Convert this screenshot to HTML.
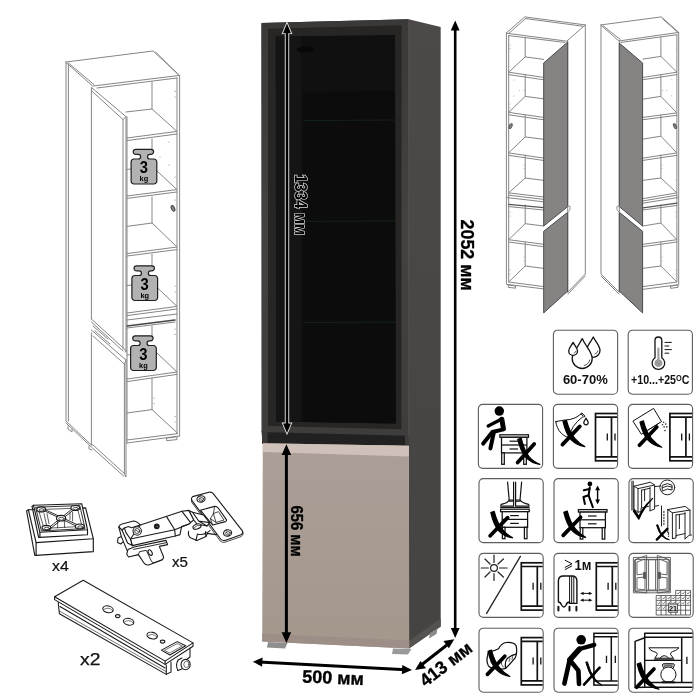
<!DOCTYPE html>
<html><head><meta charset="utf-8">
<style>
html,body{margin:0;padding:0;background:#fff;}
body{width:700px;height:700px;overflow:hidden;font-family:"Liberation Sans",sans-serif;}
svg{display:block;will-change:transform}
text{font-family:"Liberation Sans",sans-serif;}
.b{font-weight:bold}
.ln{fill:none;stroke:#858585;stroke-width:1;stroke-linejoin:round;stroke-linecap:round}
.lk{fill:none;stroke:#222;stroke-width:1;stroke-linejoin:round;stroke-linecap:round}
</style></head><body>
<svg width="700" height="700" viewBox="0 0 700 700">
<defs>
<linearGradient id="side" x1="0" x2="0" y1="0" y2="1"><stop offset="0" stop-color="#4c4948"/><stop offset="1" stop-color="#454443"/></linearGradient>
<linearGradient id="door" x1="0" x2="0" y1="0" y2="1"><stop offset="0" stop-color="#aa9e97"/><stop offset="1" stop-color="#a4988d"/></linearGradient>
<linearGradient id="frm" x1="0" x2="0" y1="0" y2="1"><stop offset="0" stop-color="#3b3938"/><stop offset=".5" stop-color="#444241"/><stop offset="1" stop-color="#3f3d3c"/></linearGradient>
</defs>
<rect width="700" height="700" fill="#fff"/>

<!-- MAIN CABINET -->
<g id="cab">
<!-- side panel -->
<polygon points="408.6,19.3 440.7,27.1 440.7,626.4 409,648.6" fill="url(#side)"/>
<polygon points="409,641 440.7,618.6 440.7,626.4 409,648.6" fill="#55524f"/>
<!-- carcass left strip + gap -->
<polygon points="261.5,22.9 408.6,19.3 408.8,446 262,444" fill="#222121"/>
<polygon points="261.5,431 267.6,431 267.6,443.4 262.4,443.2" fill="#3a3938"/><polygon points="405,435 408.7,435 408.8,445.8 405,445.7" fill="#3d3c3b"/>
<!-- glass door outer frame -->
<polygon points="261.5,22.9 408.6,19.3 408.6,435.7 261.5,432" fill="url(#frm)"/>
<!-- inner frame -->
<polygon points="268,28.8 401.6,25.2 401.4,429.2 268,426" fill="#272625"/>
<!-- glass -->
<polygon points="275.8,36.4 395,35 396,423.6 276.2,421.4" fill="#101010"/>
<polygon points="275.8,36.4 301,36 301,421.8 276.2,421.4" fill="#151515"/>
<polygon points="303,92 394.8,91 395.4,423.6 303,422" fill="#0c0c0c"/>
<ellipse cx="305.6" cy="49.6" rx="9" ry="3" fill="#080808"/>
<g stroke="#14221a" stroke-width="1"><line x1="303" y1="120.6" x2="394.8" y2="120"/><line x1="303" y1="221.4" x2="395" y2="221"/><line x1="303" y1="322.4" x2="395.2" y2="322.2"/></g>
<line x1="408.9" y1="20" x2="408.9" y2="436" stroke="#55524f" stroke-width=".8"/>
<!-- lower door -->
<polygon points="262.8,443.2 408.9,445.7 409.2,648.6 262.2,641.4" fill="url(#door)"/>
<polygon points="262.8,443.2 408.9,445.7 408.9,456.4 262.8,452" fill="#cfc1b9"/>
<polygon points="262.2,633.6 409.1,640.6 409.2,648.6 262.2,641.4" fill="#9d8f87"/>
<!-- feet -->
<polygon points="268,642 287.5,643 285,648.5 267,647.5" fill="#8e8e8e"/>
<polygon points="393,648.5 411.5,649 408,654.5 392,654" fill="#9a9a9a"/>
<polygon points="430,633 437.5,628.5 436.5,634 429,638.5" fill="#8a8a8a"/>
</g>


<!-- LEFT LINE CABINET -->
<g id="leftcab" class="ln">
<!-- top panel -->
<polygon points="66,62 153,51 179.6,75.4 93,86"/>
<polyline points="68.4,63 94,84.6"/>
<polyline points="155.6,52 177.6,74"/>
<polyline points="97,88 177,78"/>
<!-- left side -->
<polyline points="66,62 66,421 91.4,445"/>
<polyline points="66,423 91.4,447"/>
<polyline points="68.4,64 68.4,421"/>
<polyline points="68,426 68,429 72,432 72,429"/>
<polyline points="89,446 89,449 92,450"/>
<!-- right side front edge -->
<polyline points="179.6,75.4 179.6,436"/>
<polyline points="177,78 177,433.6"/>
<!-- back-left interior vertical -->
<polyline points="152,82 152,109"/>
<polyline points="152,139 152,150"/><polyline points="152,197 152,223"/><polyline points="152,254 152,266"/>
<polyline points="152,326 152,336"/><polyline points="152,378 152,409.6"/>
<!-- interior left vertical -->
<polyline points="127,117 127,443"/>
<!-- shelf1 -->
<polyline points="126,112 152,109 177,131.4 127,138"/><polyline points="127,140.6 177,134"/>
<!-- shelf2 -->
<polyline points="157,171 177,189.6 127,196"/><polyline points="127,198.4 177,192"/><polyline points="127,169.4 131,169"/>
<!-- shelf3 -->
<polyline points="127,226.4 152,223 177,247 127,253.6"/><polyline points="127,256 177,249.6"/>
<!-- shelf4 -->
<polyline points="157.6,288 177,306.4 127,313"/><polyline points="127,315.6 177,309"/><polyline points="127,285.6 132,285"/>
<!-- rail -->
<polyline points="127,320 177,314"/>
<polyline points="127,326 175,320" stroke="#444" stroke-width="1.4"/>
<polyline points="127,328 175,322"/>
<!-- shelf5 -->
<polyline points="157,353 177,372 127,379"/><polyline points="127,381.6 177,374.4"/><polyline points="127,355 130.4,354.6"/>
<!-- bottom -->
<polyline points="127,413 152,409.6 178,433.6 127,440"/><polyline points="127,443 179.6,436"/>
<polygon points="167,438 177,436.8 177,439.6 167,440.6"/>
<!-- upper door -->
<polyline points="91.4,319 91.4,87.4 126,116.6 126,352"/>
<polyline points="91.4,90.6 123,119.6 123,349"/>
<polyline points="123,119.6 126,116.6"/>
<polyline points="91.4,319 124.4,349 126,352"/>
<polyline points="91.4,322 123,351"/>
<!-- lower door -->
<polyline points="91.4,333 91.4,445 93,445 124.4,473.6 126,477 126,360 91.4,330"/>
<polyline points="93,336 124.4,364 124.4,473.6"/><polyline points="92,447.6 124,476.4"/>
<polyline points="93,326 108,339"/><polyline points="95,331 110,344"/>
<polyline points="124.4,364 126,360"/>
<!-- lock -->
<ellipse cx="173" cy="208.4" rx="1.6" ry="3" transform="rotate(-25 173 208.4)" fill="#888" stroke="#444"/>
<!-- holes -->
<g fill="#888" stroke="none">
<circle cx="175" cy="91.4" r=".6"/><circle cx="175" cy="97" r=".6"/>
<circle cx="169" cy="142" r=".6"/><circle cx="160" cy="157" r=".6"/><circle cx="169" cy="165" r=".6"/><circle cx="175" cy="177" r=".6"/>
<circle cx="175" cy="200" r=".6"/><circle cx="175" cy="286" r=".6"/><circle cx="175" cy="292" r=".6"/>
<circle cx="175" cy="329" r=".6"/><circle cx="175" cy="334.4" r=".6"/>
<circle cx="154" cy="398" r=".6"/><circle cx="154" cy="403.6" r=".6"/>
<circle cx="175" cy="416.6" r=".6"/><circle cx="175" cy="422" r=".6"/>
</g>
</g>
<!-- weights -->
<defs>
<g id="wt">
<path d="M4.6,0 H20 A2.5,2.5 0 0 1 20,5 H18.8 A2.35,2.35 0 0 0 18.8,9.7 H22.7 A3,3 0 0 1 25.7,12.7 V31.7 A3,3 0 0 1 22.7,34.7 H3 A3,3 0 0 1 0,31.7 V12.7 A3,3 0 0 1 3,9.7 H7.2 A2.35,2.35 0 0 0 7.2,5 H4.6 A2.5,2.5 0 0 1 4.6,0 Z" fill="#b2b2b2" stroke="#1e1e1e" stroke-width="1.2"/>
<text x="12.7" y="24.2" font-size="16.6" font-weight="bold" text-anchor="middle" fill="#000" textLength="8.2" lengthAdjust="spacingAndGlyphs">3</text>
<text x="12.8" y="31.8" font-size="7.4" font-weight="bold" text-anchor="middle" fill="#000">kg</text>
</g>
</defs>
<use href="#wt" x="131.1" y="149.3"/>
<use href="#wt" x="131.9" y="265.8"/>
<use href="#wt" x="130.6" y="335.8"/>


<!-- HARDWARE -->
<g id="hw" class="lk" stroke-width="0.9">
<!-- foot x4 -->
<g stroke-width="1.15" stroke="#1a1a1a">
<polygon points="28.4,509.8 36.1,542.6 93.3,538.7 85.6,507.9" fill="#fff"/>
<polyline points="36.1,542.6 36.1,555.4 93.3,551.6 93.3,538.7"/>
<polyline points="28.4,509.8 26.6,511 34.8,555.4 36.1,555.4"/>
<polygon points="33.5,505.3 81.7,503.7 87.5,529.7 39.9,532.3" fill="#fff"/>
<polyline points="39.9,532.3 39.9,537.4 87.5,534.8 87.5,529.7"/>
<polyline points="33.5,505.3 32,506.2 38.6,537.4 39.9,537.4"/>
<polygon points="36,507.2 79.8,505.6 85,528.6 41.8,530.9" fill="none" stroke-width=".9"/>
<polyline points="38.4,509.6 77.4,508.2 82,526.4 44,528.4 38.4,509.6" stroke-width=".7"/>
<path d="M44.5,510.8 L76,526 M45,509.6 L77,524.6" stroke-width=".9"/>
<path d="M72,509 L49,527.6 M73.4,510 L50.4,528.6" stroke-width=".9"/>
<path d="M44,513.6 L46.4,524.6 M47,513.6 L49,523.6 M72.6,512 L72.6,521 M70,513 L70,519.6 M57.6,521 L57.6,528 M64.6,521 L64.6,527.6" stroke-width=".7"/>
<ellipse cx="41.2" cy="509.4" rx="4.4" ry="2.5" fill="#fff"/><ellipse cx="41.6" cy="510" rx="2.6" ry="1.2" stroke-width=".8"/>
<ellipse cx="75.3" cy="508" rx="4.4" ry="2.5" fill="#fff"/><ellipse cx="75.7" cy="508.6" rx="2.6" ry="1.2" stroke-width=".8"/>
<ellipse cx="79.8" cy="526.5" rx="4.4" ry="2.5" fill="#fff"/><ellipse cx="80.2" cy="527.1" rx="2.6" ry="1.2" stroke-width=".8"/>
<ellipse cx="46.4" cy="527.8" rx="4.4" ry="2.5" fill="#fff"/><ellipse cx="46.8" cy="528.4" rx="2.6" ry="1.2" stroke-width=".8"/>
<ellipse cx="61.1" cy="518.2" rx="4.6" ry="2.8" fill="#fff"/><ellipse cx="61.4" cy="518.8" rx="2.8" ry="1.4" stroke-width=".8"/>
</g>
<!-- hinge x5 -->
<g stroke-width="1.1" stroke="#1a1a1a">
<!-- cup underside -->
<path d="M188.6,531.4 Q187.6,536 191,538 L197,540.6 L206,536.4 L207.4,533.4 L216,534.6 L219,532.6" fill="#fff"/>
<path d="M196,540.4 L197.4,534 Q203,536 210,530.6 M206,536.4 L205.4,531.6"/>
<!-- plate -->
<path d="M192.6,496.6 L209,492.2 Q211.8,491.8 213.4,493.8 L242.2,530.6 Q243.6,533.4 241,534.8 L225,540.4 Q222.4,541 220.6,539 L192,500.6 Q190.8,498 192.6,496.6 Z" fill="#fff"/>
<path d="M191.4,499.6 L191.8,502.4 L220.4,541.2 Q222.4,542.8 225,542.2 L241,536.6 Q243.6,535.4 243.2,532.8" stroke-width=".8"/>
<ellipse cx="201" cy="499" rx="4.1" ry="3.2" transform="rotate(-12 201 499)"/><ellipse cx="201.2" cy="499.4" rx="2.4" ry="1.7" transform="rotate(-12 201 499)" stroke-width=".7"/><path d="M199.6,498.2 l3.2,2.4" stroke-width=".6"/>
<ellipse cx="227.6" cy="533" rx="4.1" ry="3.2" transform="rotate(-12 227.6 533)"/><ellipse cx="227.8" cy="533.4" rx="2.4" ry="1.7" transform="rotate(-12 227.6 533)" stroke-width=".7"/><path d="M226.2,532.2 l3.2,2.4" stroke-width=".6"/>
<!-- recess -->
<path d="M200.4,510.2 L214.6,506.4 Q216.8,506.2 218,507.8 L226.4,519.6 Q226.8,521 225.4,521.6 L212.6,525 Z" fill="#fff"/>
<path d="M214.6,506.4 L213.4,513.6 L210.4,518.6 L212.6,525 M213.4,513.6 L218.4,511.6 L224,520 L216,522.4 L213.4,513.6 M210.4,518.6 L216,522.4" stroke-width=".8"/>
<!-- link -->
<path d="M188.8,510.4 L192.6,512.2 L203.4,515 L209.6,522.6 L207,526 L197,524 L193.4,519.6 Z" fill="#fff"/>
<path d="M192.6,512.2 L198.6,521 L207,526 M198.6,521 L209.6,522.6"/>
<ellipse cx="197" cy="526.6" rx="4.2" ry="2.4" transform="rotate(-20 197 526.6)" fill="#fff"/>
<path d="M194,527.6 Q197,524.6 201,525.4" stroke-width=".7"/>
<!-- arm -->
<path d="M140.3,524.9 L182,511.3 L188.8,510.4 L193.6,519.8 L189,524 L181.6,526.4 L180,534.6 L175.3,536 L132.3,545.6 L130.4,539 Z" fill="#fff"/>
<path d="M130.4,539 L174.7,529.8 L166.7,516.9 M174.7,529.8 L175.3,536 M174.7,529.8 L189,524"/>
<path d="M182,511.3 L190.6,522.6"/>
<!-- left bracket -->
<path d="M118.8,527 Q119.4,524.6 122,524 L133.6,521 Q136.4,521 140.3,524.9 L131.6,527.8 L128.4,526.6 L124.4,528 L126,532.6 L130.4,539 L132.3,545.6 L127.6,543 L122,530 Z" fill="#fff"/>
<path d="M118.8,527 L121.4,536.6 L118,538 L117.6,542.4 L120.6,544 L123.4,541.6 L127.6,551.6 M121.4,536.6 L123.4,541.6 M124.4,528 L122,530"/>
<circle cx="137.2" cy="531" r="4.2" fill="#fff"/><circle cx="137.2" cy="531" r="2.5" stroke-width=".8"/><path d="M135.6,530 l3.2,2" stroke-width=".7"/>
<circle cx="156.8" cy="526.3" r="2.3" fill="#1a1a1a"/><circle cx="157.2" cy="526.5" r=".8" fill="#888" stroke="none"/>
<!-- mounting wing -->
<path d="M126.7,554.3 L128,549.4 L134.1,547 L166,540.4 L167.6,544.6 L159.3,546.4 L163.6,557 Q163.4,559.6 160.6,560.6 L148.6,565 Q145.6,565.4 144,563 L138.4,554.6 L128.6,557 Z" fill="#fff"/>
<path d="M133.6,549.4 L166.6,542.6 M138.4,554.6 L139.6,551.6 L146.4,550.4 L151.6,561.6 Q152.6,563 155,562.4 L162.4,559.6" stroke-width=".9"/>
<ellipse cx="150.2" cy="552.6" rx="1.7" ry="3" transform="rotate(-30 150.2 552.6)"/>
</g>
<!-- latch x2 -->
<g stroke-width="1.05" stroke="#1a1a1a">
<polygon points="54.6,596.7 83.2,580.2 193,642.9 165.1,661.1" fill="#fff"/>
<polyline points="54.6,596.7 54.6,599.6 165.1,664.4 193,646.2 193,642.9"/>
<polyline points="165.1,661.1 165.1,664.4"/>
<polyline points="58.2,602.4 59.4,613.7 166.3,674.4 166.3,665"/>
<polyline points="60,606.5 165,668"/>
<polyline points="59.4,611 166,671.5" stroke-width=".6"/>
<polyline points="166.3,674.4 171,672 171,662 M171,667 L180,671 M175,658 L175,668"/>
<polyline points="190,648 190,657 186,660"/>
<path d="M178,660 L182,658 M178,670.5 L183,668.6"/>
<ellipse cx="185.6" cy="664.6" rx="4.6" ry="5.2" fill="#fff"/>
<path d="M178,660.4 Q175,665 178,670.5" />
<ellipse cx="186.4" cy="664.4" rx="2.6" ry="3.2" stroke-width=".6"/>
<ellipse cx="108" cy="609.3" rx="5.3" ry="3.3" transform="rotate(12 108 609.3)"/>
<path d="M103.5,609.8 Q108,606 112.6,610.4" stroke-width=".6"/>
<ellipse cx="128.6" cy="621.7" rx="5.3" ry="3.3" transform="rotate(12 128.6 621.7)"/>
<path d="M124.1,622.2 Q128.6,618.4 133.2,622.8" stroke-width=".6"/>
<ellipse cx="152.2" cy="635.6" rx="5.3" ry="3.3" transform="rotate(12 152.2 635.6)"/>
<path d="M147.7,636.1 Q152.2,632.3 156.8,636.7" stroke-width=".6"/>
<ellipse cx="117.7" cy="616.1" rx="2.3" ry="1.5"/>
<ellipse cx="162.6" cy="641.6" rx="2.3" ry="1.5"/>
<polygon points="161.4,650.1 177.2,641.6 185.7,645.8 169.9,655"/>
<polygon points="164.6,650.2 177.2,643.6 182.4,646 169.9,652.8" stroke-width=".6"/>
</g>
</g>
<g fill="#111" font-size="14.5" stroke="#111" stroke-width=".2">
<text x="52" y="570.6" textLength="16.8" lengthAdjust="spacingAndGlyphs">x4</text>
<text x="172" y="566.6" textLength="16" lengthAdjust="spacingAndGlyphs">x5</text>
<text x="80" y="664.8" font-size="17" textLength="20.4" lengthAdjust="spacingAndGlyphs" stroke="#111" stroke-width=".25">x2</text>
</g>


<!-- TOP RIGHT CABINETS -->
<g id="cabA" class="ln" stroke="#909090" stroke-width=".9">
<!-- top panel -->
<polygon points="506.4,32.9 524.7,16.9 585.3,24.9 567,40.9"/>
<polyline points="508.7,33.4 525.6,18.6"/>
<polyline points="525.6,18.6 583,26.2"/>
<polyline points="508.7,35.6 564.7,42.4"/>
<!-- left side front edge -->
<polyline points="506.4,32.9 506.4,284.3 543.7,288.9"/>
<polyline points="508.7,35.6 508.7,282"/>
<!-- right side -->
<polyline points="585.3,24.9 585.3,274 567.7,292.3"/>
<polyline points="585.3,276 568,294"/>
<polyline points="567.7,41 567.7,292"/>
<!-- back-left interior -->
<polyline points="525.2,37.6 525.2,56.9"/><polyline points="525.2,75 525.2,96.4"/><polyline points="525.2,115 525.2,136.9"/><polyline points="525.2,155 525.2,178"/><polyline points="525.2,205 525.2,223.7"/><polyline points="525.2,242 525.2,266"/>
<!-- shelves -->
<polyline points="543.7,59.4 525.2,56.9 508.7,72.2 543.7,77.4"/><polyline points="508.7,74.6 543.7,79.8"/>
<polyline points="543.7,98.8 525.2,96.4 508.7,112.4 543.7,117.4"/><polyline points="508.7,114.8 543.7,119.8"/>
<polyline points="543.7,139.3 525.2,136.9 508.7,152.9 543.7,158.1"/><polyline points="508.7,155.3 543.7,160.5"/>
<polyline points="543.7,180.4 525.2,178 508.7,192.9 543.7,197"/><polyline points="508.7,195.2 543.7,199.4"/>
<polyline points="507,197.6 543.7,201.8"/>
<polyline points="508.7,204.3 543.7,207.7" stroke="#555" stroke-width="1.3"/>
<polyline points="508.7,206.6 543.7,210"/>
<polyline points="543.7,226 525.2,223.7 508.7,239.7 543.7,244.3"/><polyline points="508.7,242 543.7,246.7"/>
<polyline points="543.7,268.4 525.2,266 508.7,282 543.7,286.6"/>
<polygon points="508.7,285.2 515.6,286 515.6,288.2 508.7,287.4"/>
<!-- lock & holes -->
<ellipse cx="510.6" cy="126.1" rx="1.3" ry="2.6" transform="rotate(25 510.6 126.1)" fill="#888" stroke="#555"/>
<g fill="#999" stroke="none"><circle cx="510" cy="45" r=".5"/><circle cx="510" cy="48.6" r=".5"/><circle cx="514" cy="80" r=".5"/><circle cx="519.6" cy="90.6" r=".5"/><circle cx="524" cy="90.6" r=".5"/><circle cx="514" cy="96" r=".5"/><circle cx="510" cy="104" r=".5"/><circle cx="510" cy="108" r=".5"/><circle cx="524" cy="165" r=".5"/><circle cx="524" cy="168.5" r=".5"/><circle cx="510" cy="212" r=".5"/><circle cx="510" cy="216" r=".5"/><circle cx="524" cy="257" r=".5"/><circle cx="524" cy="261" r=".5"/><circle cx="510" cy="270" r=".5"/><circle cx="510" cy="274" r=".5"/></g>
</g>
<!-- doors A -->
<g stroke="#4a4848" stroke-width="1" stroke-linejoin="round">
<polygon points="543.7,63 567.7,42 567.7,206.6 543.7,226" fill="#868383"/>
<polygon points="543.7,231.3 567.7,212.3 567.7,291.1 543.7,312.9" fill="#868383"/>
</g>
<g class="ln" stroke="#666" stroke-width=".7"><polyline points="545.2,64.2 566.4,45.4 566.4,206"/><polyline points="545.2,311 545.2,232.4 566.4,215.6"/>
<polyline points="567.7,206.6 570,206 570,210 567.7,212.3" stroke="#999"/></g>

<g id="cabB" class="ln" stroke="#909090" stroke-width=".9">
<polygon points="601,24.9 661.3,16.9 678.7,32.4 619.3,40.9"/>
<polyline points="603.2,25.8 620.4,39.6"/>
<polyline points="662.6,18.8 676.9,31.6"/>
<polyline points="620.9,42.4 676.9,34.7"/>
<!-- left side -->
<polyline points="601,24.9 601,274 619.3,292.3"/>
<polyline points="601,276 619,294"/>
<polyline points="619.3,40.9 619.3,292"/>
<!-- right side front edge -->
<polyline points="678.7,32.4 678.7,284.7 643,289.3"/>
<polyline points="676.9,34.7 676.9,282"/>
<!-- back-right interior -->
<polyline points="660.9,37 660.9,56.4"/><polyline points="660.9,75 660.9,96.4"/><polyline points="660.9,115 660.9,136.2"/><polyline points="660.9,155 660.9,178"/><polyline points="660.9,205 660.9,223"/><polyline points="660.9,242 660.9,266"/>
<!-- shelves -->
<polyline points="643,59.1 660.9,56.4 676.9,72.2 643,77.4"/><polyline points="643,79.7 676.9,74.6"/>
<polyline points="643,99.1 660.9,96.4 676.9,112.9 643,117.4"/><polyline points="643,119.7 676.9,115.3"/>
<polyline points="643,139.1 660.9,136.2 676.9,152.9 643,158.1"/><polyline points="643,160.4 676.9,155.3"/>
<polyline points="643,180.3 660.9,178 676.9,192.9 643,198.6"/><polyline points="643,200.9 676.9,195.2"/>
<polyline points="643,203.2 678,197.5"/>
<polyline points="643,207.8 676.9,203.1" stroke="#555" stroke-width="1.3"/>
<polyline points="643,210 676.9,205.4"/>
<polyline points="643,226 660.9,223 676.9,239.7 643,244.3"/><polyline points="643,246.6 676.9,242"/>
<polyline points="643,268.3 660.9,266 676.9,282 643,286.6"/>
<polygon points="671,286 678,285 678,287.3 671,288.3"/>
<ellipse cx="675" cy="126.1" rx="1.3" ry="2.6" transform="rotate(-25 675 126.1)" fill="#888" stroke="#555"/>
<g fill="#999" stroke="none"><circle cx="676.4" cy="45.4" r=".5"/><circle cx="676.4" cy="48.9" r=".5"/><circle cx="671.8" cy="79.7" r=".5"/><circle cx="662.7" cy="90.5" r=".5"/><circle cx="666.6" cy="90.5" r=".5"/><circle cx="671.8" cy="95.7" r=".5"/><circle cx="676.4" cy="103.7" r=".5"/><circle cx="676.4" cy="107.1" r=".5"/><circle cx="662" cy="165" r=".5"/><circle cx="662" cy="168.5" r=".5"/><circle cx="676" cy="180" r=".5"/><circle cx="676" cy="212" r=".5"/><circle cx="676" cy="216" r=".5"/><circle cx="662" cy="257" r=".5"/><circle cx="662" cy="261" r=".5"/><circle cx="676" cy="270" r=".5"/><circle cx="676" cy="274" r=".5"/></g>
</g>
<g stroke="#4a4848" stroke-width="1" stroke-linejoin="round">
<polygon points="619.3,43.1 642.6,63 642.6,226 619.3,206.6" fill="#868383"/>
<polygon points="619.3,212.3 642.6,231.3 642.6,312.9 619.3,291.1" fill="#868383"/>
</g>
<g class="ln" stroke="#666" stroke-width=".7"><polyline points="641.2,64.4 620.6,46.4 620.6,206"/><polyline points="641.2,311 641.2,232.4 620.6,215.6"/>
<polyline points="619.3,206.6 617,206 617,210 619.3,212.3" stroke="#999"/></g>


<!-- ICONS -->
<defs>
<rect id="bx" x="0" y="0" width="64.2" height="64" rx="4.2" ry="4.2" fill="#fff" stroke="#5e5e5e" stroke-width="1.1"/>
<clipPath id="bc"><rect x="0.5" y="0.5" width="63.2" height="63" rx="3.8"/></clipPath>
<g id="wd" fill="none" stroke="#111" stroke-width="1.7">
<rect x="42.3" y="9.4" width="30" height="47.3"/>
<line x1="42.3" y1="13.1" x2="70" y2="13.1"/><line x1="42.3" y1="52.7" x2="70" y2="52.7"/>
<line x1="58.3" y1="13.1" x2="58.3" y2="52.7"/>
<line x1="54.1" y1="29.4" x2="54.1" y2="36.3" stroke-width="1.3"/><line x1="61.8" y1="29.4" x2="61.8" y2="36.3" stroke-width="1.3"/>
</g>
<!-- generic X : stroke1 from (19,0) to (0,19); stroke2 curved -->
<g id="xx" fill="none" stroke="#000" stroke-linecap="round">
<path d="M19,6.4 L1.6,24.6" stroke-width="3.7"/>
<path d="M5.6,0.2 Q8.6,12 14,18.4 Q18.4,23.6 24,26.6 Q16,25.4 10.4,19.8 Q5,13.8 2.2,1.4 Z" fill="#000" stroke-width="1.2" stroke-linejoin="round"/>
</g>
<g id="tbl" fill="#fff" stroke="#111" stroke-width="1.25">
<rect x="0" y="0" width="28.6" height="2.5"/>
<rect x="1.6" y="2.5" width="25.4" height="15.6"/>
<line x1="1.6" y1="10.2" x2="27" y2="10.2"/>
<line x1="9.6" y1="6.4" x2="18.2" y2="6.4" stroke-width="1.2"/><line x1="9.6" y1="14.2" x2="18.2" y2="14.2" stroke-width="1.2"/>
<rect x="1.8" y="18.1" width="2.6" height="11.4"/><rect x="23.8" y="18.1" width="2.6" height="11.4"/>
</g>
</defs>

<!-- r1c2 humidity -->
<g transform="translate(553.4,330.2)"><use href="#bx"/>
<g fill="#fff" stroke="#111" stroke-width="1.3" stroke-linejoin="round">
<path d="M39.9,6.8 C42,11.5 46.6,15.5 46.6,20.4 A6.7,6.7 0 0 1 33.2,20.4 C33.2,15.5 37.8,11.5 39.9,6.8 Z"/>
<path d="M28.8,8.4 C32,16 38.8,21.5 38.8,28.3 A10,10 0 0 1 18.8,28.3 C18.8,21.5 25.6,16 28.8,8.4 Z"/>
<path d="M19.7,12.2 C21.2,15.4 24.1,17.6 24.1,20.8 A4.4,4.4 0 0 1 15.3,20.8 C15.3,17.6 18.2,15.4 19.7,12.2 Z"/>
</g>
<g fill="none" stroke="#111" stroke-width=".7"><path d="M30.5,35.5 Q35.5,34 36.4,29.4"/><path d="M41,24 Q44,23 44.6,20.4"/><path d="M20.4,23 Q22.2,22.4 22.6,20.8"/></g>
<text x="31.9" y="54.2" font-size="13" font-weight="bold" text-anchor="middle" fill="#111">60-70%</text>
</g>
<!-- r1c3 temperature -->
<g transform="translate(628.2,330.2)"><use href="#bx"/>
<path d="M26.8,27.6 V10.2 A3.4,3.4 0 0 1 33.6,10.2 V27.6 A6.3,6.3 0 1 1 26.8,27.6 Z" fill="#fff" stroke="#111" stroke-width="1.3"/>
<path d="M29.2,29 V18.4 A1,1 0 0 1 31.2,18.4 V29 A4,4 0 1 1 29.2,29 Z" fill="#9a9a9a"/>
<g stroke="#111" stroke-width="1"><line x1="36.4" y1="12.2" x2="43.6" y2="12.2"/><line x1="36.4" y1="15.8" x2="41" y2="15.8"/><line x1="36.4" y1="19.4" x2="43.6" y2="19.4"/><line x1="36.4" y1="23" x2="41" y2="23"/></g>
<text x="2.8" y="54.2" font-size="13" font-weight="bold" fill="#111" textLength="58.4" lengthAdjust="spacingAndGlyphs">+10...+25<tspan font-size="9" dy="-3.2">O</tspan><tspan dy="3.2">C</tspan></text>
</g>

<!-- r2c1 sitting -->
<g transform="translate(478.4,404.4)"><use href="#bx"/>
<circle cx="20.9" cy="6.7" r="4.75" fill="#000"/>
<g fill="none" stroke="#000" stroke-linecap="round" stroke-linejoin="round">
<path d="M23.4,14.8 L25,24.2" stroke-width="5"/>
<path d="M23.3,14.6 L9.8,21.5" stroke-width="3.4"/>
<path d="M25,25 L14,27.6 L4.8,39.2" stroke-width="4"/>
<path d="M15.3,28.6 L12,44" stroke-width="4"/>
</g>
<use href="#tbl" x="21.5" y="30.4"/>
<g fill="none" stroke="#000" stroke-linecap="round"><path d="M55.8,39.6 L39.2,58.2" stroke-width="3.7"/>
<path d="M42.8,33.8 Q45.6,45.6 50.2,51.6 Q54.4,57 61.4,60 Q53,58.8 47.4,53 Q42.2,47 39.4,35 Z" fill="#000" stroke-width="1.2" stroke-linejoin="round"/></g>
</g>

<!-- r2c2 flask -->
<g transform="translate(553.4,404.4)"><use href="#bx"/><g clip-path="url(#bc)"><use href="#wd" x="-0.2" y="-0.3"/></g>
<g fill="none" stroke="#111" stroke-width="1" stroke-linejoin="round" stroke-linecap="round">
<path d="M2.4,17.2 Q10,15.6 16.7,15.1 Q22.6,14 27.8,9.5 L29.9,12 Q23.4,16.8 19.9,22 Q17.6,26 16.7,30.4 Q15.6,33.4 13.5,32.6 Q7,30 4,23 Q2.6,20 2.4,17.2 Z"/>
<path d="M27.4,9.4 L28.6,8.6 L31.6,11.8 L30.6,12.6"/>
<path d="M32.6,13.6 C33.4,15.6 34.8,16.6 34.8,18.2 A2.2,2.2 0 0 1 30.4,18.2 C30.4,16.6 31.8,15.6 32.6,13.6 Z" stroke-width="1.2"/>
</g>
<use href="#xx" x="7.4" y="15.6"/>
</g>

<!-- r2c3 powder -->
<g transform="translate(628.4,404.4)"><use href="#bx"/><g clip-path="url(#bc)"><use href="#wd" x="-0.8" y="-0.3"/></g>
<polygon points="4.5,16.7 25.2,4 33.1,17.2 13,29.9" fill="#fff" stroke="#111" stroke-width="1"/>
<polyline points="18,26.6 31,18.6" fill="none" stroke="#111" stroke-width=".8"/>
<g fill="#333"><circle cx="35.2" cy="17.8" r=".8"/><circle cx="34.1" cy="20.4" r=".8"/><circle cx="37.3" cy="19.7" r=".8"/><circle cx="35.7" cy="22.5" r=".8"/><circle cx="38.4" cy="22.5" r=".8"/><circle cx="36.6" cy="26.2" r=".8"/></g>
<use href="#xx" x="9.4" y="16.2"/>
</g>

<!-- r3c1 standing -->
<g transform="translate(479,478.6)"><use href="#bx"/>
<g fill="none" stroke="#111" stroke-width="1.2" stroke-linejoin="round" stroke-linecap="round">
<path d="M28.6,3.6 L30.2,21.4 M34.6,3.6 L34.6,21.4 M36.6,3.6 L36.6,21.4 M42.6,3.6 L41,21.4"/>
<path d="M30.2,21.4 L34.6,21.4 L34.6,27.6 L21.8,27.6 Q21.4,25.6 24,25.2 Q28.6,24.4 30.2,21.4 Z" fill="#fff"/>
<path d="M41,21.4 L36.6,21.4 L36.6,27.6 L50,27.6 Q50.4,25.6 47.8,25.2 Q43,24.4 41,21.4 Z" fill="#fff"/>
<path d="M30.4,22.6 L34.4,22.6 M36.8,22.6 L40.8,22.6 M21.6,28.9 L50.2,28.9" />
</g>
<use href="#tbl" x="21.6" y="30.6"/>
<use href="#xx" x="9.6" y="32.6"/>
</g>

<!-- r3c2 jumping -->
<g transform="translate(554,478.6)"><use href="#bx"/>
<circle cx="35.9" cy="5.3" r="2.4" fill="#000"/>
<g fill="none" stroke="#000" stroke-width="2" stroke-linecap="round" stroke-linejoin="round">
<path d="M35.8,8.6 L34.6,16.7 L38.8,28.6"/><path d="M35.6,10.4 L29.8,11.6"/><path d="M34.6,16.7 L29.4,18.4 L30.9,25.4"/>
<path d="M43.6,10 L43.6,22.6" stroke-width="1.4"/>
</g>
<polygon points="43.6,6.8 46,11.6 41.2,11.6" fill="#000"/><polygon points="43.6,25.6 46,20.8 41.2,20.8" fill="#000"/>
<use href="#tbl" x="24.4" y="31" />
<use href="#xx" x="7.6" y="32.2"/>
</g>

<!-- r3c3 wall fix -->
<g transform="translate(629,478.6)"><use href="#bx"/>
<g fill="none" stroke="#222" stroke-width="1" stroke-linejoin="round" stroke-linecap="round">
<path d="M2.9,2.6 V31.6 M4.2,2.6 V31"/>
<path d="M5,7.6 L21.4,3.6 L25.6,6.4 L25.6,30.4 L21,32.2 M5,7.6 L9,10 L25.6,6.4 M5,7.6 V30.6 L9,33.6 M9,10 V33.6 M21,9 V32.2 M12.6,11.6 V29 M15.6,11 V22 M12.6,11.6 L21,9.6 M9,33.6 L12,33 V29.6 L20,27.6"/>
<path d="M25.6,8 L31.4,7.4 M25.6,27.6 L29.6,27"/>
<circle cx="38.3" cy="8.8" r="7.4"/>
<path d="M33.6,6.6 L38.4,5 L43,6.6 V11.4 L38.4,10.4 L33.6,12.4 Z M33.6,9 L38.4,7.4 L43,8.6"/>
<path d="M32.5,27.4 V47.4" /><path d="M34.9,32.6 V47.6" stroke-dasharray="1.4 1.6"/>
<path d="M38.8,31 L56.2,27.8 L61,31.5 V56 L56,60.2 M38.8,31 L43.4,34.2 L61,31.5 M38.8,31 V54 M43.4,34.2 V60 M56,34 V60.2 M47,36.4 V57.6 M50.4,36 V50 M47,36.4 L56,35 M43.4,60 L47,59.4 V57 L56,55"/>
<path d="M61,56.6 L62.6,56.4 M39.6,54 V58" stroke-dasharray="2 1.4"/>
</g>
<path d="M5.4,31.4 L9.8,37.8 Q15,27 23.6,19.8 Q15,28.6 9.8,40.6 L4.4,32.6 Z" fill="#000" stroke="#000" stroke-width="1.2" stroke-linejoin="round"/>
<g fill="none" stroke="#000" stroke-linecap="round"><path d="M38.3,50.2 L27.8,61" stroke-width="2.4"/><path d="M28.8,46.4 Q31,54 34.6,57.6 Q37.4,60.4 40.4,61.2 Q36,60.6 33,57.4 Q29.6,53.6 27.6,46.8 Z" fill="#000" stroke-width="1"/></g>
</g>

<!-- r4c1 sun -->
<g transform="translate(479,553.4)"><use href="#bx"/><g clip-path="url(#bc)"><use href="#wd"/></g>
<g fill="none" stroke="#222" stroke-width="1.2" stroke-linecap="round">
<circle cx="15" cy="14.6" r="3.4"/>
<path d="M20.6,14.6 H28.2 M9.4,14.6 H2.2 M15,9 V1.8 M15,20.2 V27 M19,10.6 L24.4,5.6 M11,10.6 L6,5.6 M19,18.6 L24.4,23.6 M11,18.6 L6,23.6"/>
<path d="M41.4,3 L7.6,60" stroke-width="1.3"/>
</g>
</g>

<!-- r4c2 heater -->
<g transform="translate(554,553.4)"><use href="#bx"/><g clip-path="url(#bc)"><use href="#wd"/></g>
<g fill="none" stroke="#111" stroke-width="1.4" stroke-linejoin="round" stroke-linecap="round">
<path d="M4.4,48.6 V27.6 Q4.4,22.6 9.4,22.6 H18 Q22.9,22.6 22.9,27.6 V50 H15.6 V48.6 Q13,48.6 12,51.6 Q10,55.6 7.6,51.6 Q6.4,48.6 4.4,48.6 Z"/>
<path d="M15.6,23 V48.6 M17.7,23 V50 M19.8,23.4 V50" stroke-width="1"/>
<path d="M4.4,53.4 V57.2 M15.5,53.4 V57.2 M22.4,53.4 V57.2" stroke-width="2"/>
<path d="M28.6,40 H36 M28.6,46.8 H36" stroke-width="1"/>
</g>
<g fill="#111"><polygon points="26,40 29.6,38.4 29.6,41.6"/><polygon points="38.4,40 34.8,38.4 34.8,41.6"/><polygon points="26,46.8 29.6,45.2 29.6,48.4"/><polygon points="38.4,46.8 34.8,45.2 34.8,48.4"/></g>
<path d="M10.8,6.7 L18,10.4 L10.8,14.1 M18,12.5 L10.8,16.3" fill="none" stroke="#111" stroke-width="1" stroke-linejoin="miter"/>
<text x="20.4" y="16.2" font-size="14" font-weight="bold" fill="#111" textLength="17" lengthAdjust="spacingAndGlyphs">1м</text>
</g>

<!-- r4c3 window/calendar -->
<g transform="translate(629,553.4)"><use href="#bx"/>
<g fill="none" stroke="#555" stroke-width=".9" stroke-linejoin="round">
<rect x="4.4" y="4" width="37" height="35.4"/>
<rect x="6.6" y="6" width="32.6" height="31.4"/>
<path d="M17.6,2 L5.6,6.4 V38 L17.6,39.6 Z M16,5.6 L8,8.6 V21.4 L16,20.4 Z M16,23.6 L8,24.4 V35.6 L16,36.4 Z"/>
<path d="M28.4,2 L40.4,6.4 V38 L28.4,39.6 Z M30,5.6 L38,8.6 V21.4 L30,20.4 Z M30,23.6 L38,24.4 V35.6 L30,36.4 Z"/>
<path d="M17.6,6.4 H28.4 M17.6,36.6 H28.4 M19.6,6.4 V36.6 M26.6,6.4 V36.6"/>
<rect x="14.6" y="19" width="2" height="6" fill="#555"/><rect x="29.4" y="19" width="2" height="6" fill="#555"/>
</g>
<g fill="#fff" stroke="#444" stroke-width=".8">
<path d="M27.2,42.1 H46.7 V37 H61.5 V61.6 H27.2 Z"/>
<path d="M27.2,47 H61.5 M27.2,51.9 H61.5 M27.2,56.8 H61.5 M32.1,42.1 V61.6 M37,42.1 V61.6 M41.9,42.1 V61.6 M46.8,42.1 V61.6 M51.7,37 V61.6 M56.6,37 V61.6 M46.7,42.1 H61.5" fill="none"/>
</g>
<g fill="none" stroke="#333" stroke-width=".6">
<path d="M48.2,39.4 l1,1.2 l1.8,-2.4 M53.1,39.4 l1,1.2 l1.8,-2.4 M58,39.4 l1,1.2 l1.8,-2.4"/>
<path d="M28.6,44.4 l1,1.2 l1.8,-2.4 M33.5,44.4 l1,1.2 l1.8,-2.4 M38.4,44.4 l1,1.2 l1.8,-2.4 M43.3,44.4 l1,1.2 l1.8,-2.4 M48.2,44.4 l1,1.2 l1.8,-2.4 M53.1,44.4 l1,1.2 l1.8,-2.4 M58,44.4 l1,1.2 l1.8,-2.4"/>
<path d="M28.6,49.3 l1,1.2 l1.8,-2.4 M33.5,49.3 l1,1.2 l1.8,-2.4 M38.4,49.3 l1,1.2 l1.8,-2.4 M43.3,49.3 l1,1.2 l1.8,-2.4 M48.2,49.3 l1,1.2 l1.8,-2.4 M53.1,49.3 l1,1.2 l1.8,-2.4 M58,49.3 l1,1.2 l1.8,-2.4"/>
<path d="M28.6,54.2 l1,1.2 l1.8,-2.4 M33.5,54.2 l1,1.2 l1.8,-2.4"/>
</g>
<rect x="39.6" y="50.6" width="9" height="8.2" fill="#ddd" stroke="#333" stroke-width=".8"/>
<text x="44.1" y="57.6" font-size="7.4" font-weight="bold" text-anchor="middle" fill="#111">21</text>
</g>

<!-- r5c1 sponge -->
<g transform="translate(479,628.2)"><use href="#bx"/><g clip-path="url(#bc)"><use href="#wd"/></g>
<g fill="none" stroke="#111" stroke-width="1.25" stroke-linejoin="round" stroke-linecap="round">
<path d="M8.6,27.6 Q7,33 9.4,37.6 Q12,41 17,38.6 Q21,42 26.6,40.2 Q31,36 36,30 Q38.6,25 37.2,17.6 Q35,13.6 27,14.3 Q22,15.4 19.6,20.6 Q15,23 9.6,24 Q8.6,25.4 8.6,27.6 Z"/>
<path d="M37,26 Q32,27 28,30.6 Q25.6,33.4 26.6,40"/>
<path d="M11,30 Q11.6,35 14,37 M22,33 Q22,37 24.4,39 M31,30.4 L30,33.4 M33.6,28.4 L33,31.4" stroke-width=".7"/>
</g>
<use href="#xx" x="6.8" y="21.6"/>
</g>

<!-- r5c2 pushing -->
<g transform="translate(554,628.2)"><use href="#bx"/>
<g clip-path="url(#bc)" fill="none" stroke="#111" stroke-width="1.5">
<rect x="39.9" y="5.1" width="30" height="51.8" fill="#fff"/>
<line x1="39.9" y1="8.6" x2="70" y2="8.6"/><line x1="39.9" y1="52.9" x2="70" y2="52.9"/>
<line x1="57.3" y1="8.6" x2="57.3" y2="52.9"/>
<line x1="52.5" y1="27.5" x2="52.5" y2="34.9" stroke-width="1.3"/><line x1="61.3" y1="27.5" x2="61.3" y2="34.9" stroke-width="1.3"/>
</g>
<circle cx="27.2" cy="11.6" r="4.8" fill="#000"/>
<g fill="none" stroke="#000" stroke-linecap="round" stroke-linejoin="round">
<path d="M25.6,20.8 L40.2,16.6" stroke-width="4.4"/>
<path d="M25.4,21 L16,31.4" stroke-width="5.6"/>
<path d="M15.6,32 L10.4,55.4" stroke-width="4.6"/>
<path d="M16.4,32.6 L24.4,42.4 L25,55.8" stroke-width="4.6"/>
<path d="M45.6,39.4 L30,56.4" stroke-width="2.6"/>
</g>
<path d="M33.4,33.6 Q36,44 40.6,50 Q43.6,54.4 48,57 Q42.4,54.6 39,50.4 Q34.6,44.6 31.8,34 Z" fill="#000" stroke="#000" stroke-width="1" stroke-linejoin="round"/>
</g>

<!-- r5c3 heavy -->
<g transform="translate(628.8,628.2)"><use href="#bx"/>
<g clip-path="url(#bc)" fill="none" stroke="#111" stroke-width="1.5" stroke-linejoin="round">
<rect x="15.9" y="5.1" width="55" height="53.9"/>
<line x1="15.9" y1="9" x2="70" y2="9"/><line x1="15.9" y1="54.4" x2="70" y2="54.4"/>
<line x1="52.9" y1="9" x2="52.9" y2="54.4"/>
<line x1="15.9" y1="32.2" x2="52.9" y2="32.2" stroke-width="1.3"/>
<line x1="58.1" y1="28.5" x2="58.1" y2="35.9" stroke-width="1.3"/>
<path d="M15.9,9.5 L6.3,13.2 V59.2 L15.9,59" />
<g stroke-width="1">
<path d="M20.1,19.6 H50.2 Q47,23 43.6,23.4 Q42,24 41.6,26 L44.6,30 H26 L28.6,26 Q28,23.6 25,23.4 Q21.4,22.6 20.1,19.6 Z"/>
<path d="M31,30 Q35.4,25 40,30 M25,31 H45.6"/>
<circle cx="39.6" cy="46.4" r="7.6"/>
<path d="M35,40.4 L33.6,37 Q33.6,35.4 35.4,35.4 H44 Q45.6,35.4 45.6,37 L44.2,40.4 M36.4,39.4 L35.8,37.6 H43.4 L42.8,39.4"/>
</g>
<line x1="34.4" y1="36.4" x2="45" y2="36.4" stroke="#888" stroke-width="1.6"/>
<line x1="33" y1="54" x2="46" y2="54" stroke-width="2"/>
</g>
<use href="#xx" x="6.2" y="34.4"/>
</g>

<!-- DIMENSION ARROWS -->
<g id="dims">
<!-- 2052 -->
<line x1="455.2" y1="28" x2="455.2" y2="630" stroke="#000" stroke-width="2.6"/>
<polygon points="455.2,20.5 459.6,30.5 450.8,30.5" fill="#000"/>
<polygon points="455.2,638 459.6,628 450.8,628" fill="#000"/>
<text class="b" font-size="18" stroke="#000" stroke-width=".3" transform="translate(460.8,219.6) rotate(90)" textLength="71" lengthAdjust="spacingAndGlyphs">2052 мм</text>
<!-- 1334 -->
<g stroke="#e8e8e8" stroke-width="1.8" stroke-linejoin="miter">
<line x1="287" y1="30" x2="287" y2="426" stroke-width="4.4"/>
<polygon points="287,23.6 291,33.2 283,33.2"/>
<polygon points="287,433 291,423.4 283,423.4"/>
</g>
<line x1="287" y1="30" x2="287" y2="426" stroke="#000" stroke-width="2.6"/>
<polygon points="287,23.6 291,33.2 283,33.2" fill="#000"/>
<polygon points="287,433 291,423.4 283,423.4" fill="#000"/>
<text class="b" font-size="15.6" transform="translate(295.2,174.6) rotate(90)" textLength="60.6" lengthAdjust="spacingAndGlyphs" stroke="#dcdcdc" stroke-width="1.4" paint-order="stroke" fill="#000">1334 мм</text>
<!-- 656 -->
<line x1="286.4" y1="452" x2="286.4" y2="635" stroke="#000" stroke-width="3"/>
<polygon points="286.4,444.3 291.2,455 281.6,455" fill="#000"/>
<polygon points="286.4,643 291.2,632.3 281.6,632.3" fill="#000"/>
<text class="b" font-size="15.6" stroke="#000" stroke-width=".3" transform="translate(291.2,505.4) rotate(90)" textLength="51" lengthAdjust="spacingAndGlyphs">656 мм</text>
<!-- 500 -->
<line x1="259" y1="662" x2="406" y2="669.7" stroke="#000" stroke-width="3"/>
<polygon points="252.9,661.7 262.6,657.6 262.1,666.8" fill="#000"/>
<polygon points="412,670 402.3,665 401.8,674.2" fill="#000"/>
<text class="b" font-size="18" stroke="#000" stroke-width=".35" transform="translate(302,682.4) rotate(2.6)">500 мм</text>
<!-- 413 -->
<line x1="420" y1="666" x2="449.5" y2="643" stroke="#000" stroke-width="3"/>
<polygon points="415,670 420.5,661 426,668.2" fill="#000"/>
<polygon points="454.3,639.3 443.4,641 448.9,648.2" fill="#000"/>
<text class="b" font-size="18" stroke="#000" stroke-width=".35" transform="translate(425.4,687.6) rotate(-37.5)" textLength="61" lengthAdjust="spacingAndGlyphs">413 мм</text>
</g>
</svg>
</body></html>
